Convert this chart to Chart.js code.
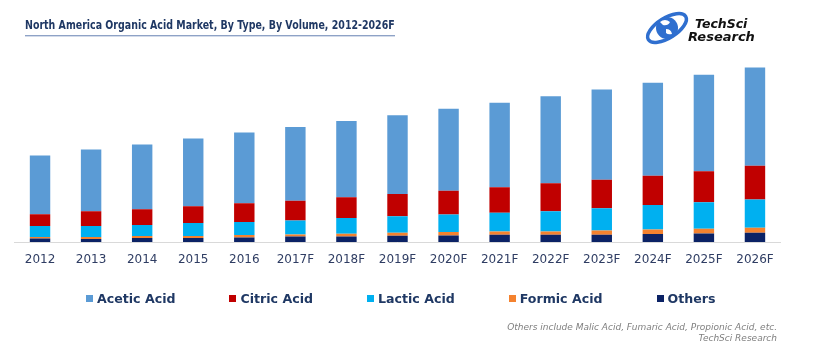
<!DOCTYPE html>
<html>
<head>
<meta charset="utf-8">
<script src="https://cdn.jsdelivr.net/npm/chart.js@4"></script>
<style>
  body { margin: 0; background: #fff; }
  #wrap { position: relative; width: 820px; height: 350px; overflow: hidden; font-family: "DejaVu Sans", Verdana, sans-serif; }
  #chart { position: absolute; left: 0; top: 0; }
  #title { position: absolute; left: 25px; top: 18px; font-size: 13px; line-height: 13px; font-weight: bold; color: #1f3864; white-space: nowrap; transform-origin: 0 0; }
  #title-rule { position: absolute; left: 25px; top: 35px; width: 370px; height: 1px; background: #8ea2c6; border-bottom: 1px solid #d3dbea; }
  #logo { position: absolute; left: 643px; top: 10px; width: 120px; height: 36px; }
  #logo .t1, #logo .t2 { position: absolute; font-weight: bold; font-style: italic; color: #111; white-space: nowrap; line-height: 1; }
  #logo .t1 { left: 52px; top: 8px; font-size: 12.5px; }
  #logo .t2 { left: 45px; top: 20px; font-size: 13px; }
  #legend { position: absolute; left: 86px; top: 291px; display: flex; column-gap: 54px; }
  #legend .item { display: flex; align-items: center; font-size: 12.6px; font-weight: bold; color: #1f3864; white-space: nowrap; }
  #legend .box { width: 7px; height: 7px; margin-right: 4px; }
  #note { position: absolute; right: 43px; top: 322px; text-align: right; font-size: 9px; line-height: 11px; font-style: italic; color: #7f7f7f; }
</style>
</head>
<body>
<div id="wrap">
  <canvas id="chart" width="820" height="350"></canvas>
  <div id="title">North America Organic Acid Market, By Type, By Volume, 2012-2026F</div>
  <div id="title-rule"></div>
  <div id="logo">
    <svg width="48" height="36" viewBox="0 0 48 36" style="position:absolute;left:0;top:0">
      <ellipse cx="24" cy="18" rx="22" ry="10" fill="none" stroke="#2f6fcf" stroke-width="3.5" transform="rotate(-32 24 18)"/>
      <circle cx="24" cy="18" r="11" fill="#2f6fcf"/>
      <path d="M17 12 q5 -4 10 0 q-2 4 -7 3 z M23 19 q5 0 6 5 q-4 1 -6 -1 z" fill="#ffffff"/>
    </svg>
    <div class="t1">TechSci</div>
    <div class="t2">Research</div>
  </div>
  <div id="legend"></div>
  <div id="note">Others include Malic Acid, Fumaric Acid, Propionic Acid, etc.<br>TechSci Research</div>
</div>
<script>
document.addEventListener('DOMContentLoaded', function () {
    // --- Data (volume) ---
    const years = ['2012', '2013', '2014', '2015', '2016', '2017F', '2018F', '2019F',
        '2020F', '2021F', '2022F', '2023F', '2024F', '2025F', '2026F'];
    const aceticAcid = [59, 62, 65, 68, 71, 74, 76.6, 79, 82.4, 85, 87.6, 90.7, 93.4, 97, 98.7];
    const citricAcid = [12, 15, 16, 17, 19, 20, 21, 22.3, 24, 25.7, 28, 28.6, 29.3, 31, 34];
    const lacticAcid = [11, 11, 11, 13, 13, 14, 15.7, 16.7, 17.6, 18.7, 20.4, 22.4, 24.7, 26.7, 28.3];
    const formicAcid = [1.5, 2, 2, 2, 2.5, 2, 2.7, 3, 3.4, 3.3, 3.3, 4.3, 4.6, 4.7, 5];
    const others = [3.5, 3, 4, 4, 4.5, 5.5, 5.6, 6.3, 6.6, 7.3, 7.3, 7.3, 8, 8.6, 9.3];

    // --- Title squeeze (the original title is set in a narrow face) ---
    const title = document.getElementById('title');
    title.style.transform = 'scaleX(' + (370 / title.offsetWidth) + ')';

    // bottom of the stack first
    const datasets = [
        { label: 'Others', data: others, backgroundColor: '#0b2265' },
        { label: 'Formic Acid', data: formicAcid, backgroundColor: '#f4822f' },
        { label: 'Lactic Acid', data: lacticAcid, backgroundColor: '#00b0f0' },
        { label: 'Citric Acid', data: citricAcid, backgroundColor: '#c00000' },
        { label: 'Acetic Acid', data: aceticAcid, backgroundColor: '#5b9bd5' }
    ];

    const chart = new Chart(document.getElementById('chart'), {
        type: 'bar',
        data: { labels: years, datasets: datasets },
        options: {
            responsive: false,
            animation: false,
            layout: { padding: { left: 14.5, right: 39.5, top: 43, bottom: 71.6 } },
            datasets: { bar: { categoryPercentage: 1, barPercentage: 0.4, borderWidth: 0 } },
            plugins: {
                legend: { display: false },
                tooltip: { enabled: false }
            },
            scales: {
                x: {
                    stacked: true,
                    grid: { display: false, drawTicks: false },
                    border: { display: true, color: '#d9d9d9', width: 1 },
                    ticks: {
                        padding: 11,
                        color: '#2f3d63',
                        font: { family: '"DejaVu Sans", Verdana, sans-serif', size: 12 }
                    }
                },
                y: {
                    stacked: true,
                    display: false,
                    min: 0,
                    max: 200
                }
            }
        }
    });

    // --- Legend built from the chart's datasets, top of stack first ---
    const legend = document.getElementById('legend');
    chart.data.datasets.slice().reverse().forEach(ds => {
        const item = document.createElement('div');
        item.className = 'item';
        const box = document.createElement('span');
        box.className = 'box';
        box.style.background = ds.backgroundColor;
        item.appendChild(box);
        item.appendChild(document.createTextNode(ds.label));
        legend.appendChild(item);
    });
});
</script>
</body>
</html>
